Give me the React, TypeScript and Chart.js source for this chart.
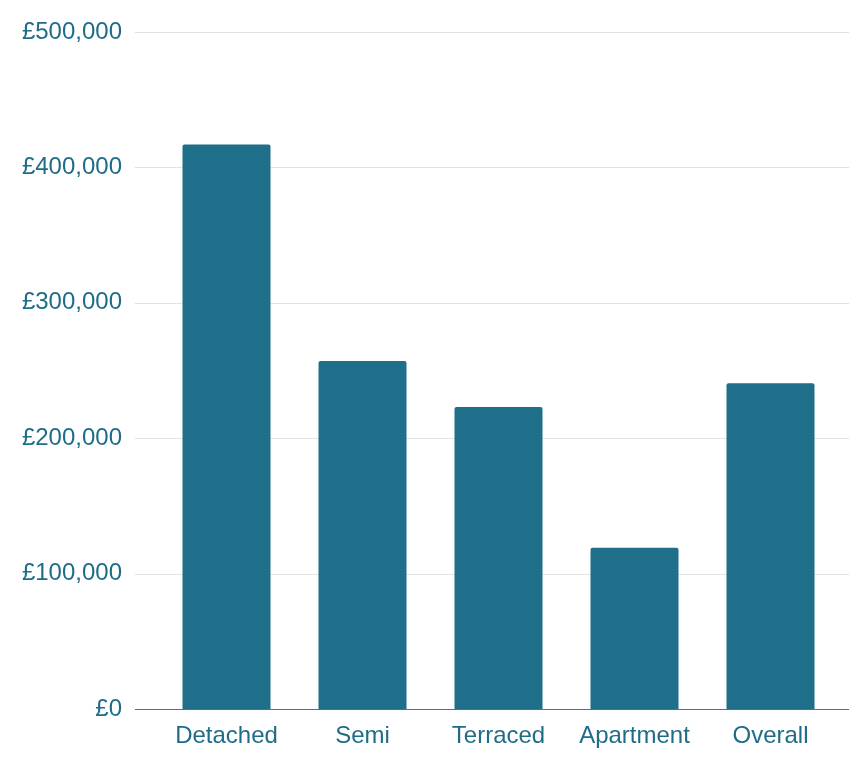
import React, { useEffect, useRef } from "react";
import { Chart, registerables } from "chart.js";

Chart.register(...registerables);

const categories = ["Detached", "Semi", "Terraced", "Apartment", "Overall"];
const prices = [417000, 257000, 223000, 119000, 240500];
const yTicks = [0, 100000, 200000, 300000, 400000, 500000];

const BAR = "#1f6f8b";
const TEXT = "#1f6c88";
const FONT = "'Liberation Sans', Arial, sans-serif";

const gridPlugin = {
  id: "extGrid",
  beforeDatasetsDraw(chart: any) {
    const { ctx } = chart;
    const y = chart.scales.y;
    ctx.save();
    yTicks.forEach((v) => {
      if (v === 0) return;
      const py = Math.round(y.getPixelForValue(v)) + 0.5;
      ctx.beginPath();
      ctx.lineWidth = 1.2;
      ctx.strokeStyle = "#e2e2e2";
      ctx.moveTo(135, py);
      ctx.lineTo(chart.width, py);
      ctx.stroke();
    });
    ctx.restore();
  },
  afterDatasetsDraw(chart: any) {
    const { ctx } = chart;
    const y = chart.scales.y;
    const py = Math.round(y.getPixelForValue(0)) + 0.5;
    ctx.save();
    ctx.beginPath();
    ctx.lineWidth = 1.2;
    ctx.strokeStyle = "#6b6b6b";
    ctx.moveTo(135, py);
    ctx.lineTo(chart.width, py);
    ctx.stroke();
    ctx.restore();
  },
};

export default function App() {
  const ref = useRef<HTMLCanvasElement>(null);
  useEffect(() => {
    if (!ref.current) return;
    const chart = new Chart(ref.current, {
      type: "bar",
      data: {
        labels: categories,
        datasets: [
          {
            data: prices,
            backgroundColor: BAR,
            borderRadius: 2,
            categoryPercentage: 1,
            barPercentage: 88 / 136,
          },
        ],
      },
      options: {
        animation: false,
        responsive: false,
        maintainAspectRatio: false,
        layout: { padding: { top: 32, right: 10.5, left: 0, bottom: 0 } },
        plugins: { legend: { display: false }, tooltip: { enabled: false } },
        scales: {
          x: {
            grid: { display: false, drawTicks: false },
            border: { display: false },
            ticks: {
              color: TEXT,
              padding: 13,
              font: { family: FONT, size: 24 },
              maxRotation: 0,
            },
            afterFit(scale: any) {
              scale.height = 50;
              scale.paddingLeft = 0;
              scale.paddingRight = 0;
            },
          },
          y: {
            min: 0,
            max: 500000,
            grid: { display: false, drawTicks: false },
            border: { display: false },
            afterBuildTicks(scale: any) {
              scale.ticks = yTicks.map((v) => ({ value: v }));
            },
            ticks: {
              color: TEXT,
              padding: 36.5,
              font: { family: FONT, size: 24 },
              callback: (v: any) => "£" + Number(v).toLocaleString("en-GB"),
            },
            afterFit(scale: any) {
              scale.width = 158.5;
              scale.paddingTop = 0;
              scale.paddingBottom = 0;
            },
          },
        },
      },
      plugins: [gridPlugin],
    });
    return () => chart.destroy();
  }, []);
  return (
    <div style={{ position: "absolute", left: 0, top: 0, width: 849, height: 759, background: "#fff" }}>
      <canvas ref={ref} width={849} height={759} style={{ display: "block" }} />
    </div>
  );
}
